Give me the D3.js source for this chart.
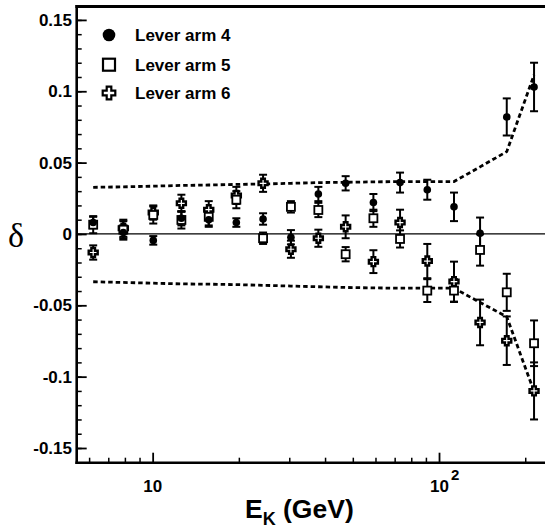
<!DOCTYPE html>
<html>
<head>
<meta charset="utf-8">
<script src="https://d3js.org/d3.v7.min.js"></script>
<style>
  body { margin: 0; background: #fff; }
  svg { display: block; }
  text { font-family: "Liberation Sans", Arial, sans-serif; font-weight: bold; fill: #000; }
</style>
</head>
<body>
<svg id="chart" width="545" height="531"></svg>
<script>
// energy bins (GeV)
const energy = [6.2, 7.9, 10.05, 12.6, 15.7, 19.6, 24.3, 30.4, 37.9, 47.2, 59.0, 73.1, 91.0, 112.8, 139.1, 172.4, 214.7];

// lever arm 4 (filled circles)
const arm4 = [0.008, 0.001, -0.0045, 0.011, 0.010, 0.008, 0.0105, -0.0023, 0.028, 0.0355, 0.022, 0.036, 0.031, 0.019, 0.0005, 0.082, 0.103];
const arm4Err = [0.004, 0.005, 0.003, 0.005, 0.005, 0.003, 0.004, 0.005, 0.005, 0.005, 0.006, 0.007, 0.007, 0.010, 0.011, 0.013, 0.017];

// lever arm 5 (open squares)
const arm5 = [0.0065, 0.003, 0.0133, 0.0098, 0.012, 0.024, -0.003, 0.019, 0.0168, -0.0142, 0.011, -0.0035, -0.0397, -0.0397, -0.0112, -0.0409, -0.0766];
const arm5Err = [0.006, 0.006, 0.006, 0.006, 0.006, 0.006, 0.004, 0.004, 0.005, 0.005, 0.006, 0.006, 0.008, 0.008, 0.011, 0.013, 0.016];

// lever arm 6 (crosses)
const arm6 = [-0.013, 0.004, 0.015, 0.0215, 0.017, 0.027, 0.0355, -0.0107, -0.003, 0.005, -0.0194, 0.008, -0.019, -0.0334, -0.062, -0.0748, -0.110];
const arm6Err = [0.005, 0.006, 0.005, 0.006, 0.006, 0.006, 0.006, 0.006, 0.006, 0.008, 0.008, 0.009, 0.012, 0.014, 0.016, 0.017, 0.020];

// dashed systematic band
const bandUpper = [0.0327, 0.033, 0.0335, 0.034, 0.0343, 0.0347, 0.035, 0.0355, 0.036, 0.0362, 0.0365, 0.0367, 0.0367, 0.0367, 0.047, 0.0577, 0.1114];
const bandLower = [-0.0335, -0.034, -0.0345, -0.035, -0.0352, -0.0355, -0.036, -0.0365, -0.037, -0.0375, -0.0378, -0.038, -0.038, -0.038, -0.048, -0.058, -0.1105];

const yTicks = [0.15, 0.1, 0.05, 0, -0.05, -0.1, -0.15];
const yTickLabels = ["0.15", "0.1", "0.05", "0", "-0.05", "-0.1", "-0.15"];
const legendLabels = ["Lever arm 4", "Lever arm 5", "Lever arm 6"];

const svg = d3.select("#chart");

const x = d3.scaleLog().domain([5.43, 240]).range([76.7, 547.9]);
const y = d3.scaleLinear().domain([-0.1603, 0.1594]).range([462.7, 6.5]);
const x0 = 76.7, x1 = 545, yTop = 6.5, yBot = 462.7;

// zero line
svg.append("line")
  .attr("x1", x0).attr("x2", x1)
  .attr("y1", y(0)).attr("y2", y(0))
  .attr("stroke", "#000").attr("stroke-width", 1.2);

// dashed band
[bandUpper, bandLower].forEach(b => {
  svg.append("path")
    .attr("d", d3.line().x((d, i) => x(energy[i])).y(d => y(d))(b))
    .attr("fill", "none")
    .attr("stroke", "#000")
    .attr("stroke-width", 2.8)
    .attr("stroke-dasharray", "4.5,3");
});

// axes: minor ticks
const yMinor = d3.range(-15, 16).map(d => d / 100);
svg.append("g")
  .attr("transform", `translate(${x0},0)`)
  .call(d3.axisLeft(y).tickValues(yMinor).tickSize(-5).tickFormat(""))
  .call(g => g.select(".domain").remove())
  .selectAll("line").attr("stroke-width", 1.5);
svg.append("g")
  .attr("transform", `translate(${x0},0)`)
  .call(d3.axisLeft(y).tickValues(yTicks).tickSize(-10).tickFormat(""))
  .call(g => g.select(".domain").remove())
  .selectAll("line").attr("stroke-width", 1.8);

const xMinor = [6, 7, 8, 9, 20, 30, 40, 50, 60, 70, 80, 90, 200];
svg.append("g")
  .attr("transform", `translate(0,${yBot})`)
  .call(d3.axisBottom(x).tickValues(xMinor).tickSize(-5).tickFormat(""))
  .call(g => g.select(".domain").remove())
  .selectAll("line").attr("stroke-width", 1.5);
svg.append("g")
  .attr("transform", `translate(0,${yBot})`)
  .call(d3.axisBottom(x).tickValues([10, 100]).tickSize(-10).tickFormat(""))
  .call(g => g.select(".domain").remove())
  .selectAll("line").attr("stroke-width", 1.8);

// frame
svg.append("line").attr("x1", x0).attr("x2", x0).attr("y1", yTop - 1.5).attr("y2", yBot + 1.3)
  .attr("stroke", "#000").attr("stroke-width", 2.6);
svg.append("line").attr("x1", x0 - 1.3).attr("x2", x1).attr("y1", yBot).attr("y2", yBot)
  .attr("stroke", "#000").attr("stroke-width", 2.6);
svg.append("line").attr("x1", x0 - 1.3).attr("x2", x1).attr("y1", yTop).attr("y2", yTop)
  .attr("stroke", "#000").attr("stroke-width", 3);

// y tick labels
svg.append("g").selectAll("text")
  .data(yTicks)
  .join("text")
  .attr("x", 72)
  .attr("y", d => y(d) + 6)
  .attr("text-anchor", "end")
  .attr("font-size", 17)
  .text((d, i) => yTickLabels[i]);

// x tick labels
svg.append("text").attr("x", x(10)).attr("y", 492).attr("text-anchor", "middle")
  .attr("font-size", 17).text("10");
const t100 = svg.append("text").attr("x", x(100) - 9).attr("y", 492)
  .attr("font-size", 17);
t100.append("tspan").text("10");
t100.append("tspan").attr("dy", -12).attr("dx", 2).attr("font-size", 15).text("2");

// axis titles
const xt = svg.append("text").attr("x", 245).attr("y", 518).attr("font-size", 26.5);
xt.append("tspan").text("E");
xt.append("tspan").attr("dy", 7).attr("font-size", 18).text("K");
xt.append("tspan").attr("dy", -7).text(" (GeV)");

svg.append("text")
  .attr("x", 16).attr("y", 247)
  .attr("text-anchor", "middle")
  .style("font-family", "'Liberation Serif', 'DejaVu Serif', serif")
  .style("font-weight", "normal")
  .attr("font-size", 34)
  .text("δ");

// error bars
function errorBars(vals, errs) {
  const g = svg.append("g").attr("stroke", "#000").attr("stroke-width", 2);
  vals.forEach((v, i) => {
    const cx = x(energy[i]);
    const lo = y(v - errs[i]), hi = y(v + errs[i]);
    g.append("line").attr("x1", cx).attr("x2", cx).attr("y1", lo).attr("y2", hi);
    g.append("line").attr("x1", cx - 4).attr("x2", cx + 4).attr("y1", lo).attr("y2", lo);
    g.append("line").attr("x1", cx - 4).attr("x2", cx + 4).attr("y1", hi).attr("y2", hi);
  });
}
errorBars(arm6, arm6Err);
errorBars(arm5, arm5Err);
errorBars(arm4, arm4Err);

function crossPath(cx, cy, a, b) {
  // plus outline, arm half-width a, half-length b
  return `M${cx - a},${cy - b}H${cx + a}V${cy - a}H${cx + b}V${cy + a}H${cx + a}V${cy + b}H${cx - a}V${cy + a}H${cx - b}V${cy - a}H${cx - a}Z`;
}

// markers
svg.append("g").selectAll("path")
  .data(arm6)
  .join("path")
  .attr("d", (d, i) => crossPath(x(energy[i]), y(d), 1.8, 4.5))
  .attr("fill", "#fff").attr("stroke", "#000").attr("stroke-width", 2.4);

svg.append("g").selectAll("rect")
  .data(arm5)
  .join("rect")
  .attr("x", (d, i) => x(energy[i]) - 4)
  .attr("y", d => y(d) - 4)
  .attr("width", 8).attr("height", 8)
  .attr("fill", "#fff").attr("stroke", "#000").attr("stroke-width", 1.8);

svg.append("g").selectAll("circle")
  .data(arm4)
  .join("circle")
  .attr("cx", (d, i) => x(energy[i]))
  .attr("cy", d => y(d))
  .attr("r", 3.8)
  .attr("fill", "#000");

// legend
const ly = [35, 64.7, 93];
svg.append("circle").attr("cx", 109).attr("cy", ly[0]).attr("r", 6.3).attr("fill", "#000");
svg.append("rect").attr("x", 103).attr("y", ly[1] - 6).attr("width", 12).attr("height", 12)
  .attr("fill", "#fff").attr("stroke", "#000").attr("stroke-width", 2.2);
svg.append("path").attr("d", crossPath(109, ly[2], 2.3, 6.3))
  .attr("fill", "#fff").attr("stroke", "#000").attr("stroke-width", 2.2);
svg.append("g").selectAll("text")
  .data(legendLabels)
  .join("text")
  .attr("x", 135)
  .attr("y", (d, i) => ly[i] + 6)
  .attr("font-size", 17)
  .text(d => d);
</script>
</body>
</html>
